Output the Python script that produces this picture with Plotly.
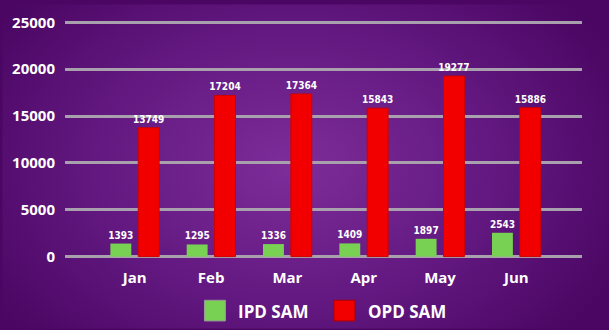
import base64
import plotly.graph_objects as go

# Monthly SAM case counts
months = ["Jan", "Feb", "Mar", "Apr", "May", "Jun"]
ipd_sam = [1393, 1295, 1336, 1409, 1897, 2543]
opd_sam = [13749, 17204, 17364, 15843, 19277, 15886]
y_ticks = [0, 5000, 10000, 15000, 20000, 25000]
y_tick_labels = [str(v) for v in y_ticks]

GREEN = "#78d152"
RED = "#f20000"
FONT = "Open Sans"
LABEL_FONT = "DejaVu Sans Condensed"

W, H = 609, 330
# small padding on the value range so the 0 and 25000 grid lines are drawn
Y_PAD = 150
L, R = 63, 27
T, B = 17, 72
pw, ph = W - L - R, H - T - B
axis_bottom_px = H - B

svg = f"""<svg xmlns='http://www.w3.org/2000/svg' width='{W}' height='{H}' viewBox='0 0 {W} {H}'>
<defs><radialGradient id='g' cx='0.48' cy='0.5' r='0.6' gradientTransform='translate(0.48 0.5) scale(1 1.3) translate(-0.48 -0.5)'>
<stop offset='0' stop-color='#7e2d99'/>
<stop offset='0.55' stop-color='#621880'/>
<stop offset='1' stop-color='#4a0662'/>
</radialGradient></defs>
<rect width='{W}' height='{H}' fill='url(#g)'/></svg>"""
bg_uri = "data:image/svg+xml;base64," + base64.b64encode(svg.encode()).decode()

label_font = dict(family=LABEL_FONT, size=10, color="white", weight="bold")

fig = go.Figure()
fig.add_trace(go.Bar(
    x=months, y=ipd_sam, name="IPD SAM",
    marker=dict(color=GREEN, line=dict(width=0)),
    text=[str(v) for v in ipd_sam], textposition="outside",
    textfont=label_font, constraintext="none",
    cliponaxis=False, showlegend=False,
))
fig.add_trace(go.Bar(
    x=months, y=opd_sam, name="OPD SAM",
    marker=dict(color=RED, line=dict(width=1, color="#d00000")),
    text=[str(v) for v in opd_sam], textposition="outside",
    textfont=label_font, constraintext="none",
    cliponaxis=False, showlegend=False,
))


def px_x(p):
    return (p - L) / pw


def px_y(p):
    return (axis_bottom_px - p) / ph


# custom legend: large swatches with bold labels
shapes = []
annotations = []
legend_items = [("IPD SAM", GREEN, "#9a9a9a", 203, 235), ("OPD SAM", RED, "#b00000", 333, 365)]
for label, color, edge, sx, tx in legend_items:
    shapes.append(dict(
        type="rect", xref="paper", yref="paper",
        x0=px_x(sx), x1=px_x(sx + 21), y0=px_y(322), y1=px_y(301),
        fillcolor=color, line=dict(width=1, color=edge),
    ))
    annotations.append(dict(
        text=label, xref="paper", yref="paper", x=px_x(tx), y=px_y(312),
        xanchor="left", yanchor="middle", showarrow=False,
        font=dict(family=FONT, size=17, color="white", weight="bold"),
    ))

fig.update_layout(
    width=W, height=H,
    margin=dict(l=L, r=R, t=T, b=B, pad=0),
    paper_bgcolor="#4a0662", plot_bgcolor="rgba(0,0,0,0)",
    barmode="group", bargap=0.27, bargroupgap=0.25,
    images=[dict(source=bg_uri, xref="paper", yref="paper",
                 x=-L / pw, y=1 + T / ph, sizex=W / pw, sizey=H / ph,
                 xanchor="left", yanchor="top", sizing="stretch", layer="below")],
    shapes=shapes, annotations=annotations,
    xaxis=dict(
        range=[-0.914, 5.86], showgrid=False, zeroline=False, showline=False,
        ticks="", tickfont=dict(family=FONT, size=15, color="white", weight="bold"),
        ticklabelstandoff=9,
    ),
    yaxis=dict(
        range=[-Y_PAD, 25000 + Y_PAD], tickvals=y_ticks, ticktext=y_tick_labels,
        showgrid=True, gridcolor="#a8a0ad", gridwidth=3,
        zeroline=False, showline=False, ticks="",
        tickfont=dict(family=FONT, size=15, color="white", weight="bold"),
        ticklabelstandoff=9,
    ),
)

fig.write_html("out.html")
